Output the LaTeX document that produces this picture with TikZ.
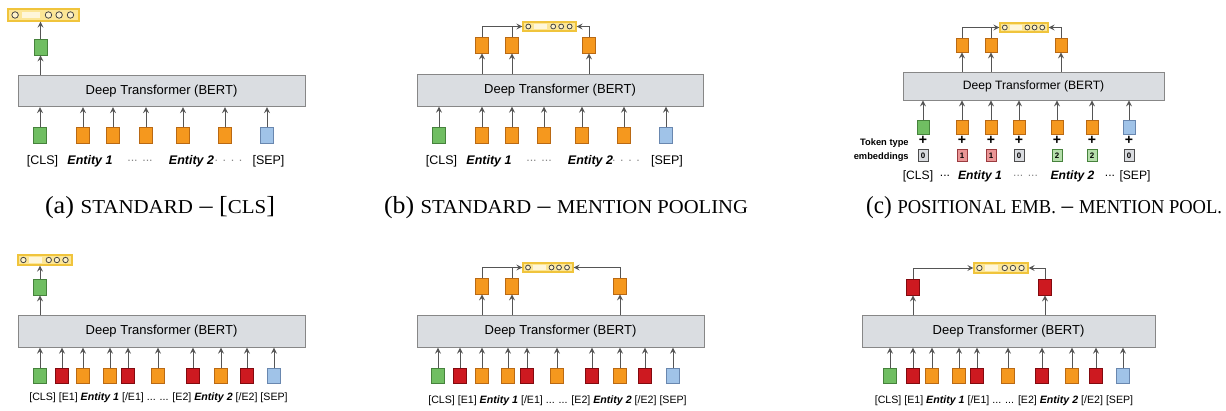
\documentclass[tikz,border=0pt]{standalone}
\usepackage{fontspec}
\setmainfont{Liberation Serif}
\setsansfont{Liberation Sans}
\usetikzlibrary{arrows,positioning}

\definecolor{clsfill}{RGB}{112,190,98}
\definecolor{clsline}{RGB}{70,130,60}
\definecolor{entfill}{RGB}{245,152,30}
\definecolor{entline}{RGB}{185,105,20}
\definecolor{mrkfill}{RGB}{205,25,32}
\definecolor{mrkline}{RGB}{130,10,15}
\definecolor{sepfill}{RGB}{160,195,232}
\definecolor{sepline}{RGB}{105,135,175}
\definecolor{bertfill}{RGB}{218,221,225}
\definecolor{bertline}{RGB}{135,135,135}
\definecolor{vecfill}{RGB}{252,230,150}
\definecolor{vecline}{RGB}{240,196,60}
\definecolor{connline}{RGB}{85,85,85}
\definecolor{typezero}{RGB}{218,220,224}
\definecolor{typeone}{RGB}{234,150,150}
\definecolor{typetwo}{RGB}{182,222,172}

\tikzset{
  tok/.style={draw, line width=0.5pt, inner sep=0pt, minimum width=0.26cm, minimum height=0.32cm},
  clstok/.style={tok, fill=clsfill, draw=clsline},
  enttok/.style={tok, fill=entfill, draw=entline},
  mrktok/.style={tok, fill=mrkfill, draw=mrkline},
  septok/.style={tok, fill=sepfill, draw=sepline},
  smalltok/.style={minimum width=0.24cm, minimum height=0.27cm},
  lowtok/.style={minimum height=0.30cm},
  bert/.style={draw=bertline, fill=bertfill, line width=0.5pt, inner sep=0pt,
    minimum height=0.63cm, font=\sffamily\fontsize{7.4}{9}\selectfont},
  outvec/.style={draw=vecline, fill=vecfill, line width=0.7pt, inner sep=0pt},
  vecdot/.style={draw=connline!80!black, fill=vecfill!50!white, line width=0.45pt},
  conn/.style={->, >=stealth, draw=connline, line width=0.5pt},
  link/.style={draw=connline, line width=0.5pt},
  toplbl/.style={font=\sffamily\fontsize{7.1}{9}\selectfont, inner sep=0pt},
  topent/.style={font=\sffamily\bfseries\itshape\fontsize{7.1}{9}\selectfont, inner sep=0pt},
  topdots/.style={toplbl, text=connline!70},
  midlbl/.style={font=\sffamily\fontsize{6.9}{8}\selectfont, inner sep=0pt},
  ment/.style={font=\sffamily\bfseries\itshape\fontsize{6.9}{8}\selectfont, inner sep=0pt},
  middots/.style={midlbl, text=connline!70},
  lowlbl/.style={font=\sffamily\fontsize{6.05}{8}\selectfont, inner sep=0pt},
  plus/.style={font=\sffamily\bfseries\fontsize{8}{8}\selectfont, inner sep=0pt},
  typebox/.style={draw, line width=0.5pt, inner sep=0pt, minimum width=0.2cm, minimum height=0.24cm,
    font=\sffamily\bfseries\fontsize{4.5}{5}\selectfont},
  type0/.style={typebox, fill=typezero, draw=black!70},
  type1/.style={typebox, fill=typeone, draw=mrkline!80},
  type2/.style={typebox, fill=typetwo, draw=clsline},
  caption/.style={font=\fontsize{14}{16}\selectfont, inner sep=0pt}
}

% fake small caps for the captions
\newcommand\fsc[1]{{\fontsize{11.2}{13}\selectfont #1}}
\newcommand\ent[1]{{\bfseries\itshape #1}}
% output vector: name, centre x, centre y, width, height (px)
\newcommand\outvec[5]{%
  \node[outvec, minimum width={#4*0.02cm}, minimum height={#5*0.02cm}] (#1) at (#2,#3) {};
  \fill[vecfill!35!white] ({#2-0.3*#4},{#3-0.28*#5}) rectangle ({#2-0.05*#4},{#3+0.28*#5});
  \foreach \f in {0.1,0.57,0.72,0.88}
    \draw[vecdot] ({#2+(\f-0.5)*#4},#3) circle[radius={0.27*#5*0.02cm}];
}

\begin{document}
\begin{tikzpicture}[x=0.02cm, y=-0.02cm]
  \useasboundingbox[fill=white] (0,0) rectangle (1226,411);

  % (a) standard - [CLS]
  \node[bert, minimum width=5.74cm] (bertA) at (161.5,91) {Deep Transformer (BERT)};
  \foreach \x/\s [count=\i] in {40/clstok,83/enttok,113/enttok,146/enttok,183/enttok,225/enttok,267/septok}
    \node[\s] (a\i) at (\x,135) {};
  \foreach \i in {1,...,7}
    \draw[conn] (a\i) -- (a\i |- bertA.south);
  \node[clstok] (aout) at (40.5,47) {};
  \outvec{avec}{43.5}{15}{71}{12}
  \draw[conn] (aout |- bertA.north) -- (aout);
  \draw[conn] (aout) -- (aout |- avec.south);
  \foreach \x/\s/\t [count=\i] in {42.5/toplbl/{[CLS]},90/topent/{Entity 1},140/topdots/{... ...},
      191.5/topent/{Entity 2},228.5/topdots/{. . . .},268.5/toplbl/{[SEP]}}
    \node[\s] (la\i) at (\x,161) {\t};
  \node[caption] (capA) at (160,208) {\resizebox{4.6cm}{\height}{(a) \fsc{STANDARD} – [\fsc{CLS}]}};

  % (b) standard - mention pooling
  \node[bert, minimum width=5.72cm] (bertB) at (560,90.5) {Deep Transformer (BERT)};
  \foreach \x/\s [count=\i] in {439/clstok,482/enttok,512/enttok,544/enttok,582/enttok,624/enttok,666/septok}
    \node[\s] (b\i) at (\x,135) {};
  \foreach \i in {1,...,7}
    \draw[conn] (b\i) -- (b\i |- bertB.south);
  \foreach \x [count=\i] in {482,512,589}
    \node[enttok] (bt\i) at (\x,45) {};
  \outvec{bvec}{549.5}{26.5}{53}{9}
  \foreach \i in {1,2,3}
    \draw[conn] (bt\i |- bertB.north) -- (bt\i);
  \draw[conn] (bt1) |- (bvec);
  \draw[link] (bt2) -- (bt2 |- bvec);
  \draw[conn] (bt3) |- (bvec);
  \foreach \x/\s/\t [count=\i] in {441.5/toplbl/{[CLS]},489/topent/{Entity 1},539/topdots/{... ...},
      590.5/topent/{Entity 2},626/topdots/{. . . .},667/toplbl/{[SEP]}}
    \node[\s] (lb\i) at (\x,161) {\t};
  \node[caption] (capB) at (566,208) {\resizebox{7.28cm}{\height}{(b) \fsc{STANDARD} – \fsc{MENTION POOLING}}};

  % (c) positional emb. - mention pool.
  \node[bert, minimum width=5.22cm, minimum height=0.56cm, font=\sffamily\fontsize{6.9}{8}\selectfont]
    (bertC) at (1033.5,86) {Deep Transformer (BERT)};
  \foreach \x/\s/\t/\n [count=\i] in {923/clstok/type0/0,962/enttok/type1/1,991/enttok/type1/1,
      1019/enttok/type0/0,1057/enttok/type2/2,1092/enttok/type2/2,1129/septok/type0/0}{
    \node[\s, smalltok] (c\i) at (\x,127.5) {};
    \node[plus] (cp\i) at (\x,140) {+};
    \node[\t] (ct\i) at (\x,155.5) {\n};
  }
  \foreach \i in {1,...,7}
    \draw[conn] (c\i) -- (c\i |- bertC.south);
  \node[font=\sffamily\bfseries\fontsize{5.3}{8}\selectfont, align=right, anchor=east, inner sep=0pt]
    (ttype) at (909,150) {Token type\\embeddings};
  \foreach \x [count=\i] in {962,991,1061}
    \node[enttok, smalltok, minimum height=0.28cm] (ctop\i) at (\x,45) {};
  \outvec{cvec}{1024}{27.5}{48}{9}
  \foreach \i in {1,2,3}
    \draw[conn] (ctop\i |- bertC.north) -- (ctop\i);
  \draw[conn] (ctop1) |- (cvec);
  \draw[link] (ctop2) -- (ctop2 |- cvec);
  \draw[conn] (ctop3) |- (cvec);
  \foreach \x/\s/\t [count=\i] in {918/midlbl/{[CLS]},945/midlbl/{...},980/ment/{Entity 1},
      1025.5/middots/{... ...},1072.5/ment/{Entity 2},1110/midlbl/{...},1135/midlbl/{[SEP]}}
    \node[\s] (lc\i) at (\x,176) {\t};
  \node[caption] (capC) at (1044,208) {\resizebox{7.12cm}{\height}{(c) \fsc{POSITIONAL EMB.} – \fsc{MENTION POOL.}}};

  % (d) entity markers - [CLS]
  \node[bert, minimum width=5.74cm] (bertD) at (161.5,331.5) {Deep Transformer (BERT)};
  \foreach \x/\s [count=\i] in {40/clstok,62/mrktok,83/enttok,110/enttok,128/mrktok,
      158/enttok,193/mrktok,221/enttok,247/mrktok,274/septok}
    \node[\s, lowtok] (d\i) at (\x,375.5) {};
  \foreach \i in {1,...,10}
    \draw[conn] (d\i) -- (d\i |- bertD.south);
  \node[clstok] (dout) at (40,287) {};
  \outvec{dvec}{45}{260}{54}{10}
  \draw[conn] (dout |- bertD.north) -- (dout);
  \draw[conn] (dout) -- (dout |- dvec.south);
  \node[lowlbl] (ld) at (158.5,398)
    {[CLS] [E1] \ent{Entity 1} [/E1] ... ... [E2] \ent{Entity 2} [/E2] [SEP]};

  % (e) entity markers - mention pool.
  \node[bert, minimum width=5.74cm] (bertE) at (560.5,331.5) {Deep Transformer (BERT)};
  \foreach \x/\s [count=\i] in {438/clstok,460/mrktok,482/enttok,508/enttok,527/mrktok,
      557/enttok,592/mrktok,620/enttok,645/mrktok,673/septok}
    \node[\s, lowtok] (e\i) at (\x,375.5) {};
  \foreach \i in {1,...,10}
    \draw[conn] (e\i) -- (e\i |- bertE.south);
  \foreach \x [count=\i] in {482,512,620}
    \node[enttok] (et\i) at (\x,286) {};
  \outvec{evec}{548}{267.5}{50}{9}
  \foreach \i in {1,2,3}
    \draw[conn] (et\i |- bertE.north) -- (et\i);
  \draw[conn] (et1) |- (evec);
  \draw[link] (et2) -- (et2 |- evec);
  \draw[conn] (et3) |- (evec);
  \node[lowlbl] (le) at (557.5,401)
    {[CLS] [E1] \ent{Entity 1} [/E1] ... ... [E2] \ent{Entity 2} [/E2] [SEP]};

  % (f) entity markers - entity start
  \node[bert, minimum width=5.86cm] (bertF) at (1008.5,331.5) {Deep Transformer (BERT)};
  \foreach \x/\s [count=\i] in {890/clstok,913/mrktok,932/enttok,959/enttok,977/mrktok,
      1008/enttok,1042/mrktok,1072/enttok,1096/mrktok,1123/septok}
    \node[\s, lowtok] (f\i) at (\x,375.5) {};
  \foreach \i in {1,...,10}
    \draw[conn] (f\i) -- (f\i |- bertF.south);
  \foreach \x [count=\i] in {913,1045}
    \node[mrktok] (ft\i) at (\x,287) {};
  \outvec{fvec}{1001}{268}{54}{10}
  \foreach \i in {1,2}
    \draw[conn] (ft\i |- bertF.north) -- (ft\i);
  \draw[conn] (ft1) |- (fvec);
  \draw[conn] (ft2) |- (fvec);
  \node[lowlbl] (lf) at (1004,401)
    {[CLS] [E1] \ent{Entity 1} [/E1] ... ... [E2] \ent{Entity 2} [/E2] [SEP]};
\end{tikzpicture}
\end{document}
